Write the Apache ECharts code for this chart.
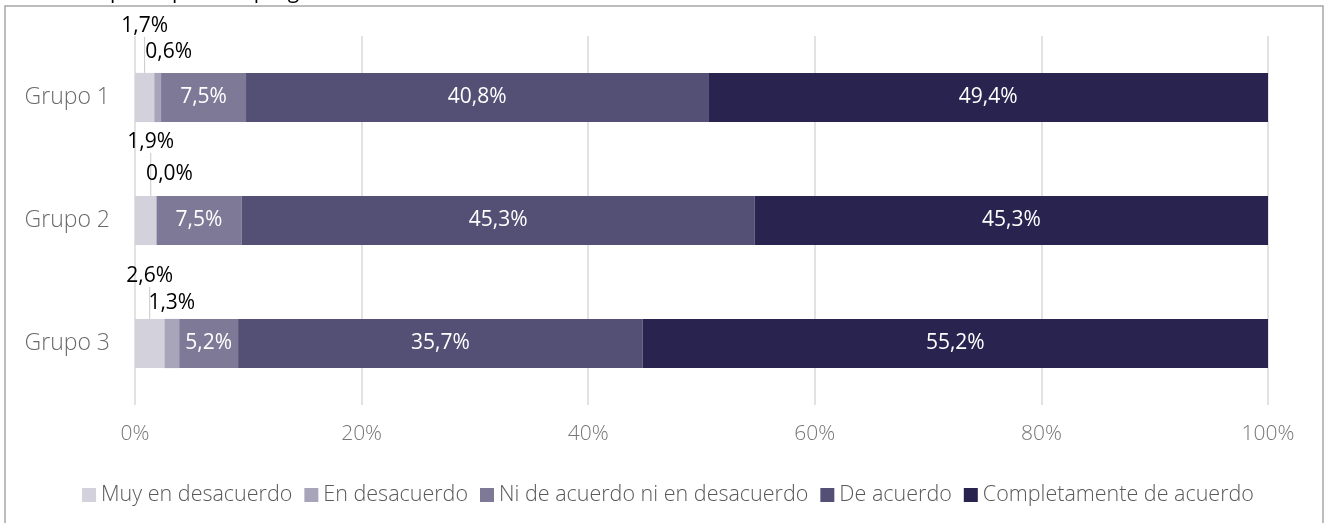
<!DOCTYPE html>
<html>
<head>
<meta charset="utf-8">
<script src="https://cdn.jsdelivr.net/npm/echarts@6/dist/echarts.min.js"></script>
<style>
  html, body { margin: 0; padding: 0; background: #ffffff; }
  #chart { width: 1336px; height: 523px; }
</style>
</head>
<body>
<div id="chart"></div>
<script>
// Survey groups and answer scale
const groups = ['Grupo 1', 'Grupo 2', 'Grupo 3'];
const responses = [
  'Muy en desacuerdo',
  'En desacuerdo',
  'Ni de acuerdo ni en desacuerdo',
  'De acuerdo',
  'Completamente de acuerdo'
];

// Share of answers per group (%)
const muyEnDesacuerdo = [1.7, 1.9, 2.6];
const enDesacuerdo    = [0.6, 0.0, 1.3];
const niDeAcuerdo     = [7.5, 7.5, 5.2];
const deAcuerdo       = [40.8, 45.3, 35.7];
const completamente   = [49.4, 45.3, 55.2];

// Percentage axis ticks
const xTicks = [0, 20, 40, 60, 80, 100];

const seriesValues = [muyEnDesacuerdo, enDesacuerdo, niDeAcuerdo, deAcuerdo, completamente];
const palette = ['#d3d1dc', '#a8a5ba', '#7e7997', '#544f74', '#29234f'];
const FONT = 'Open Sans';

// Callout shifts [dx, dy] for the labels of the two thin segments, per group
const calloutShift = [
  [[0, -34], [11, -8]],
  [[5, -41], [13, -9]],
  [[0, -30], [0, -3]]
];

const fmt = v => v.toFixed(1).replace('.', ',') + '%';

const chart = echarts.init(document.getElementById('chart'), null, { renderer: 'canvas' });

const series = responses.map((name, i) => {
  const thin = i < 2;
  return {
    name: name,
    type: 'bar',
    stack: 'total',
    barCategoryGap: '60%',
    data: seriesValues[i],
    itemStyle: { color: palette[i] },
    label: {
      show: true,
      position: thin ? 'top' : 'inside',
      distance: 2,
      color: thin ? '#000000' : '#ffffff',
      fontFamily: FONT,
      fontSize: 21,
      formatter: p => fmt(p.value)
    },
    labelLine: thin && i === 0 ? { show: true, lineStyle: { color: '#c8c8c8', width: 1 } } : { show: false },
    labelLayout: thin ? (params => {
      const s = calloutShift[params.dataIndex][i];
      return { dx: s[0], dy: s[1], hideOverlap: false };
    }) : undefined,
    emphasis: { disabled: true }
  };
});

chart.setOption({
  backgroundColor: '#ffffff',
  animation: false,
  textStyle: { fontFamily: FONT },
  grid: { left: 135, right: 68, top: 36, bottom: 118 },
  graphic: [
    {
      type: 'rect',
      shape: { x: 5, y: 6, width: 1318, height: 540 },
      style: { fill: 'none', stroke: '#a6a6a6', lineWidth: 1.5 },
      silent: true
    },
    {
      type: 'text',
      left: 0,
      top: -18,
      style: {
        text: 'suficientes para aplicar el programa',
        fill: '#000000',
        font: '21px "Open Sans"'
      },
      silent: true
    }
  ],
  legend: {
    data: responses,
    top: 479,
    left: 'center',
    icon: 'rect',
    itemWidth: 14,
    itemHeight: 14,
    itemGap: 12,
    textStyle: { color: '#595959', fontSize: 21.5, fontFamily: FONT, fontWeight: 300 },
    selectedMode: false
  },
  xAxis: {
    type: 'value',
    min: xTicks[0],
    max: xTicks[xTicks.length - 1],
    interval: xTicks[1] - xTicks[0],
    axisLine: { show: false },
    axisTick: { show: false },
    splitLine: { show: true, lineStyle: { color: '#d9d9d9', width: 1.5 } },
    axisLabel: {
      color: '#767676',
      fontSize: 21,
      fontFamily: FONT,
      fontWeight: 300,
      margin: 19,
      formatter: v => v + '%'
    }
  },
  yAxis: {
    type: 'category',
    data: groups,
    inverse: true,
    axisLine: { show: false },
    axisTick: { show: false },
    axisLabel: {
      color: '#6a6a6a',
      fontSize: 23,
      fontFamily: FONT,
      fontWeight: 300,
      margin: 25
    }
  },
  series: series
});
</script>
</body>
</html>
